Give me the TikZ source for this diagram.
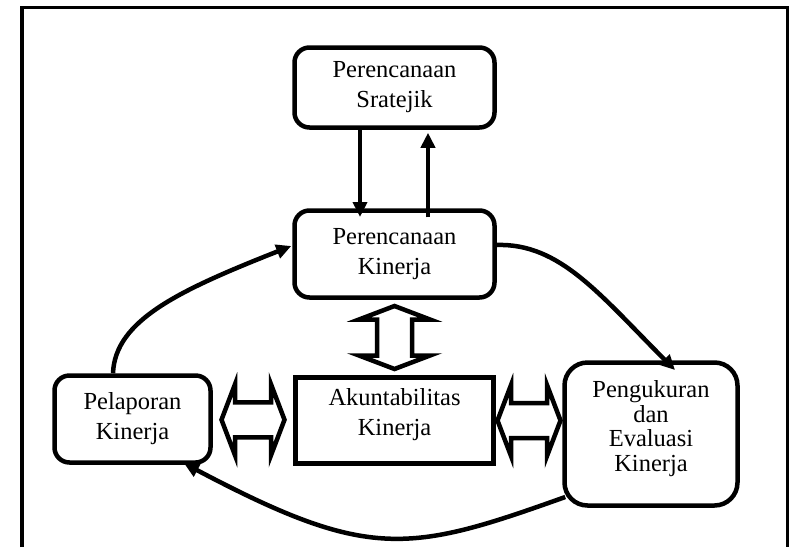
\documentclass[tikz,border=0pt]{standalone}
\usepackage{fontspec}
\setmainfont{Liberation Serif}
\usetikzlibrary{arrows.meta,calc}
\begin{document}
\begin{tikzpicture}[x=1pt,y=-1pt,
  box/.style={draw, line width=4.5pt, rounded corners=15pt, inner sep=0pt},
  sqbox/.style={draw, line width=4.5pt, sharp corners, inner sep=0pt},
  lbl/.style={align=center, inner sep=0pt, font=\fontsize{24.5}{30}\selectfont},
  link/.style={line width=4.5pt, -{Triangle[length=15pt,width=14pt]}},
  outline/.style={line width=3.5pt},
  pics/dblarrow/.style={code={
    \draw[line width=4.5pt, fill=white, line join=miter]
      (-31.5,0) -- (-18,-35.5) -- (-18,-17.5) -- (18,-17.5) -- (18,-35.5)
      -- (31.5,0) -- (18,35.5) -- (18,17.5) -- (-18,17.5) -- (-18,35.5) -- cycle;
  }}]
\useasboundingbox (0,0) rectangle (789,547);

% outer frame (open at the bottom)
\draw[outline] (22,547) -- (22,7.5) -- (787.5,7.5) -- (787.5,547);

% boxes
\node[box, minimum width=200pt, minimum height=80pt]  (strat) at (394.5,87.5) {};
\node[box, minimum width=200pt, minimum height=87pt]  (plan)  at (394.5,254) {};
\node[sqbox, minimum width=198pt, minimum height=86pt] (akun) at (394.5,420.5) {};
\node[box, minimum width=156pt, minimum height=87pt]  (pel)   at (132.5,419) {};
\node[box, rounded corners=23pt, minimum width=173pt, minimum height=143pt] (pen) at (651,434) {};

% box texts
\node[lbl] (strat-t) at (strat.center) {Perencanaan\\Sratejik};
\node[lbl] (plan-t)  at (plan.center)  {Perencanaan\\Kinerja};
\node[lbl] (akun-t)  at ([yshift=5.5pt]akun.center) {Akuntabilitas\\Kinerja};
\node[lbl] (pel-t)   at (pel.center)   {Pelaporan\\Kinerja};
\node[lbl, font=\fontsize{24.5}{24.5}\selectfont] (pen-t) at ([yshift=5.5pt]pen.center)
  {Pengukuran\\dan\\Evaluasi\\Kinerja};

% links between strategic and performance planning
\draw[link] ([xshift=-34.5pt]strat.south) -- ([xshift=-34.5pt,yshift=-8.75pt]plan.north);
\draw[link] ([xshift=33.5pt,yshift=-9pt]plan.north) -- ([xshift=33.5pt,yshift=-3pt]strat.south);

% cycle: reporting -> planning -> measurement -> reporting
\draw[link] ([xshift=-19.5pt]pel.north) .. controls (115,320) and (180,290) ..
  ([xshift=-1pt,yshift=8pt]plan.west);
\draw[link] ([yshift=9pt]plan.east) .. controls (560,243) and (600,295) ..
  ([xshift=24pt,yshift=-9.75pt]pen.north);
\draw[link] ([xshift=3pt,yshift=-63pt]pen.west) .. controls (408.5,553) and (369,561) ..
  ([xshift=51.5pt,yshift=1.5pt]pel.south);

% two-way links with accountability
\pic[rotate=90] at ($(plan.south)!0.5!(akun.north)$) {dblarrow};
\pic at ($(pel.east)!0.5!(akun.west)$) {dblarrow};
\pic at ($(akun.east)!0.5!(pen.west |- akun.east)$) {dblarrow};
\end{tikzpicture}
\end{document}
